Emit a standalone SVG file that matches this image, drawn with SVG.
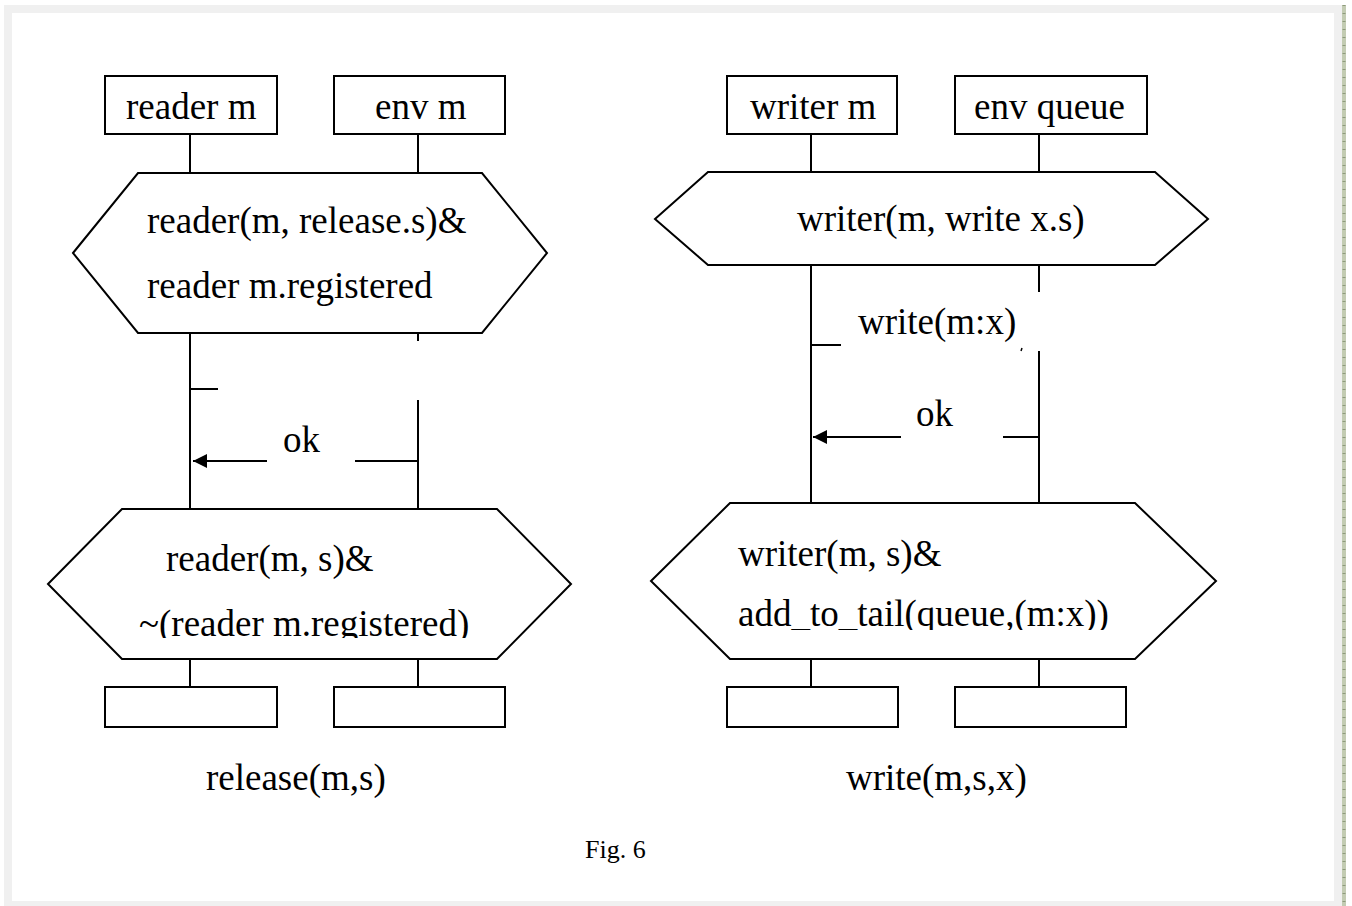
<svg xmlns="http://www.w3.org/2000/svg" width="1352" height="906" viewBox="0 0 1352 906">
<style>
.ln{stroke:#000;stroke-width:2;fill:none}
.bx{stroke:#000;stroke-width:2;fill:#fff}
.t{font-family:"Liberation Serif","Times New Roman",serif;font-size:37px;fill:#000}
.f{font-family:"Liberation Serif","Times New Roman",serif;font-size:26px;fill:#000}
</style>
<defs>
<marker id="ah" viewBox="0 0 16 16" refX="15" refY="8" markerWidth="16" markerHeight="16" markerUnits="userSpaceOnUse" orient="auto">
<path d="M1,1 L15,8 L1,15 Z" fill="#000"/>
</marker>
<clipPath id="c1"><rect x="40" y="500" width="540" height="138"/></clipPath>
<clipPath id="c2"><rect x="640" y="500" width="590" height="130"/></clipPath>
</defs>
<rect x="0" y="0" width="1352" height="906" fill="#fff"/>
<rect x="4" y="5" width="1338" height="901" fill="#f0f0f0"/>
<rect x="12" y="13" width="1322" height="888" fill="#fff"/>
<rect x="1342" y="5" width="4" height="901" fill="#c3ccb3"/>
<line x1="1344" y1="5" x2="1344" y2="906" stroke="#8d9a7c" stroke-width="3" stroke-dasharray="1 7"/>

<g id="connectors">
<line class="ln" x1="190" y1="134" x2="190" y2="173"/>
<line class="ln" x1="418" y1="134" x2="418" y2="173"/>
<line class="ln" x1="190" y1="333" x2="190" y2="509"/>
<line class="ln" x1="418" y1="333" x2="418" y2="341"/>
<line class="ln" x1="418" y1="400" x2="418" y2="509"/>
<line class="ln" x1="190" y1="659" x2="190" y2="687"/>
<line class="ln" x1="418" y1="659" x2="418" y2="687"/>
<line class="ln" x1="190" y1="389" x2="218" y2="389"/>
<line class="ln" x1="267" y1="461" x2="193" y2="461" marker-end="url(#ah)"/>
<line class="ln" x1="355" y1="461" x2="418" y2="461"/>

<line class="ln" x1="811" y1="134" x2="811" y2="172"/>
<line class="ln" x1="1039" y1="134" x2="1039" y2="172"/>
<line class="ln" x1="811" y1="265" x2="811" y2="503"/>
<line class="ln" x1="1039" y1="265" x2="1039" y2="292"/>
<line class="ln" x1="1039" y1="351" x2="1039" y2="503"/>
<line class="ln" x1="811" y1="659" x2="811" y2="687"/>
<line class="ln" x1="1039" y1="659" x2="1039" y2="687"/>
<line class="ln" x1="811" y1="345" x2="841" y2="345"/>
<line x1="1021" y1="351" x2="1022" y2="348" stroke="#000" stroke-width="1.5"/>
<line class="ln" x1="901" y1="437" x2="813" y2="437" marker-end="url(#ah)"/>
<line class="ln" x1="1003" y1="437" x2="1039" y2="437"/>
</g>

<g id="reader-m"><rect class="bx" x="105" y="76" width="172" height="58"/><text class="t" x="126" y="119">reader m</text></g>
<g id="env-m"><rect class="bx" x="334" y="76" width="171" height="58"/><text class="t" x="375" y="119">env m</text></g>
<g id="writer-m"><rect class="bx" x="727" y="76" width="170" height="58"/><text class="t" x="750" y="119">writer m</text></g>
<g id="env-queue"><rect class="bx" x="955" y="76" width="192" height="58"/><text class="t" x="974" y="119">env queue</text></g>

<g id="cond-release"><polygon class="bx" points="73,253 138,173 482,173 547,253 482,333 138,333"/>
<text class="t" x="147" y="233">reader(m, release.s)&amp;</text>
<text class="t" x="147" y="298">reader m.registered</text></g>

<g id="cond-write"><polygon class="bx" points="655,219 708,172 1155,172 1208,219 1155,265 708,265"/>
<text class="t" x="797" y="231">writer(m, write x.s)</text></g>

<g id="msg-ok-left"><text class="t" x="283" y="452">ok</text></g>
<g id="msg-write"><text class="t" x="858" y="334">write(m:x)</text></g>
<g id="msg-ok-right"><text class="t" x="916" y="426">ok</text></g>

<g id="post-release"><polygon class="bx" points="48,584 122,509 497,509 571,584 497,659 122,659"/>
<g clip-path="url(#c1)">
<text class="t" x="166" y="571">reader(m, s)&amp;</text>
<text class="t" x="139" y="636">~(reader m.registered)</text></g></g>

<g id="post-write"><polygon class="bx" points="651,581 730,503 1135,503 1216,581 1135,659 730,659"/>
<g clip-path="url(#c2)">
<text class="t" x="738" y="566">writer(m, s)&amp;</text>
<text class="t" x="738" y="626">add_to_tail(queue,(m:x))</text></g></g>

<g id="end-reader"><rect class="bx" x="105" y="687" width="172" height="40"/></g>
<g id="end-env-m"><rect class="bx" x="334" y="687" width="171" height="40"/></g>
<g id="end-writer"><rect class="bx" x="727" y="687" width="171" height="40"/></g>
<g id="end-env-queue"><rect class="bx" x="955" y="687" width="171" height="40"/></g>

<text class="t" x="206" y="790">release(m,s)</text>
<text class="t" x="846" y="790">write(m,s,x)</text>
<text class="f" x="585" y="858">Fig. 6</text>
</svg>
